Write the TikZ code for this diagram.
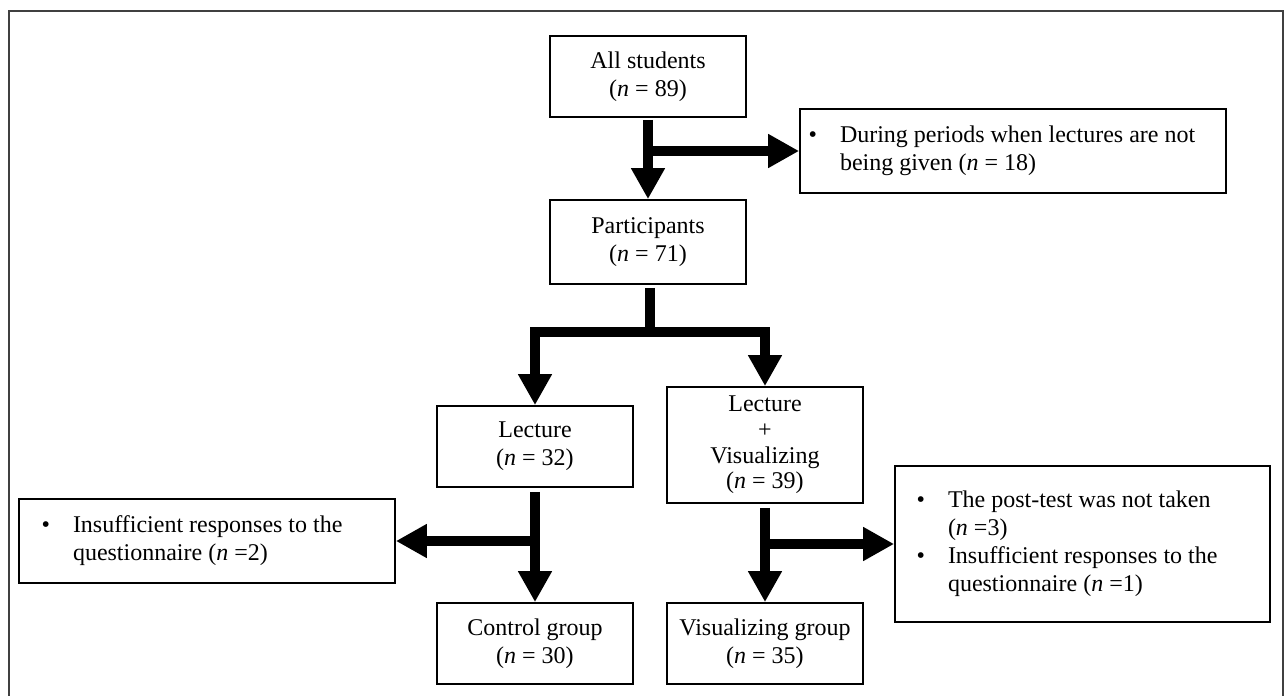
\documentclass[tikz,border=0pt]{standalone}
\usepackage{fontspec,enumitem}
\setmainfont{Liberation Serif}
\usetikzlibrary{arrows.meta,calc,positioning}
\tikzset{
    box/.style={
	anchor=center,
	rectangle,
	draw=black,
	line width=0.9pt,
	align=center,
	inner sep=0pt,
	minimum width=98pt,
	minimum height=40.5pt
    },
    flow/.style={
	draw=black,
	line width=5pt
    },
    frameline/.style={
	draw=black!75,
	line width=1pt
    },
}
\newcommand\exclist[2]{%
    \parbox{#1}{\raggedright
    \begin{itemize}[nosep,leftmargin=13.5pt,labelsep=11.5pt]
    #2
    \end{itemize}}}

\begin{document}
\begin{tikzpicture}[x=0.5pt,y=-0.5pt,>={Triangle[length=15.5pt,width=16pt]},
    font=\fontsize{12}{14}\selectfont]
    \useasboundingbox (0,0) rectangle (1287,696);
    \draw[frameline] (9,696) -- (9,11) -- (1283,11) -- (1283,696);

    \node[box] (ALL) at (648,76.5) {All students\\(\textit{n} = 89)};
    \node[box, minimum height=42pt] (PART) at (648,242) {Participants\\(\textit{n} = 71)};
    \node[box] (LECT) at (535,446.5) {Lecture\\(\textit{n} = 32)};
    \node[box, minimum height=58pt, font=\fontsize{12}{12.8}\selectfont] (LVIS) at (765,445) {%
	Lecture\\+\\Visualizing\\(\textit{n} = 39)};
    \node[box] (CTRL) at (535,643.5) {Control group\\(\textit{n} = 30)};
    \node[box] (VGRP) at (765,643.5) {Visualizing group\\(\textit{n} = 35)};

    \node[box, minimum width=213pt, minimum height=42pt] (EXA) at (1013,151) {%
	\exclist{200pt}{%
	    \item During periods when lectures are not\\
		being given (\textit{n} = 18)}};
    \node[box, minimum width=188pt, minimum height=42pt] (EXB) at (207,541) {%
	\exclist{161pt}{%
	    \item Insufficient responses to the\\
		questionnaire (\textit{n} =2)}};
    \node[box, minimum width=187.5pt, minimum height=78pt] (EXC) at (1082.5,544) {%
	\exclist{161.5pt}{%
	    \item The post-test was not taken\\(\textit{n} =3)
	    \item Insufficient responses to the\\
		questionnaire (\textit{n} =1)}};

    \coordinate (SPLIT) at (650,332);

    \draw[flow,->,shorten <=1pt] (ALL) -- (PART);
    \draw[flow,->] (ALL.south |- EXA.west) -- (EXA.west);
    \draw[flow,shorten <=1.5pt] (PART.south -| SPLIT) -- (SPLIT);
    \draw[flow,->] (SPLIT) -| (LECT);
    \draw[flow,->] (SPLIT) -| (LVIS);
    \draw[flow,->,shorten <=2pt] (LECT) -- (CTRL);
    \draw[flow,->] (LECT.south |- EXB.east) -- (EXB.east);
    \draw[flow,->,shorten <=2pt] (LVIS) -- (VGRP);
    \draw[flow,->] (LVIS.south |- EXC.west) -- (EXC.west);
\end{tikzpicture}
\end{document}
